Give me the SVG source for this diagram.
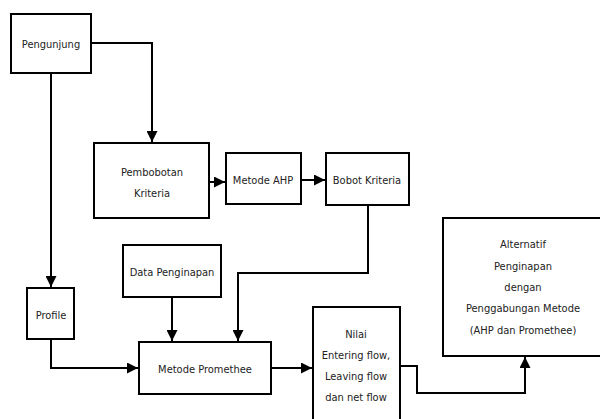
<svg xmlns="http://www.w3.org/2000/svg" width="600" height="419" viewBox="0 0 600 419">
<defs>
<marker id="arr" viewBox="0 0 10 10" refX="10" refY="5" markerWidth="5.5" markerHeight="5.5" orient="auto" markerUnits="strokeWidth">
<path d="M0,0 L10,5 L0,10 Z" fill="#000"/>
</marker>
<style>
.box{fill:#fff;stroke:#000;stroke-width:2}
.lbl{font-family:"DejaVu Sans Condensed","DejaVu Sans",sans-serif;font-size:11px;fill:#222;text-anchor:middle}
.edge{fill:none;stroke:#000;stroke-width:2}
</style>
</defs>
<rect width="600" height="419" fill="#fff"/>
<g id="connectors">
<path class="edge" d="M91,43 H152 V142" marker-end="url(#arr)"/>
<path class="edge" d="M51,73 V287" marker-end="url(#arr)"/>
<path class="edge" d="M209,182 H225" marker-end="url(#arr)"/>
<path class="edge" d="M301,180 H325" marker-end="url(#arr)"/>
<path class="edge" d="M368,205 V273 H238 V341" marker-end="url(#arr)"/>
<path class="edge" d="M172,297 V341" marker-end="url(#arr)"/>
<path class="edge" d="M51,339 V368 H138" marker-end="url(#arr)"/>
<path class="edge" d="M271,368 H312" marker-end="url(#arr)"/>
<path class="edge" d="M400,366 H417 V393 H525 V357" marker-end="url(#arr)"/>
</g>
<g id="pengunjung"><rect class="box" x="11" y="14" width="80" height="59"/><text class="lbl" x="51" y="48">Pengunjung</text></g>
<g id="pembobotan"><rect class="box" x="94" y="143" width="115" height="75"/><text class="lbl" x="152" y="176">Pembobotan</text><text class="lbl" x="152" y="197">Kriteria</text></g>
<g id="ahp"><rect class="box" x="226" y="153" width="75" height="51"/><text class="lbl" x="263" y="184">Metode AHP</text></g>
<g id="bobot"><rect class="box" x="326" y="153" width="83" height="52"/><text class="lbl" x="367" y="184">Bobot Kriteria</text></g>
<g id="data"><rect class="box" x="123" y="245" width="98" height="52"/><text class="lbl" x="172" y="276">Data Penginapan</text></g>
<g id="profile"><rect class="box" x="27" y="288" width="47" height="51"/><text class="lbl" x="51" y="319">Profile</text></g>
<g id="promethee"><rect class="box" x="139" y="342" width="132" height="52"/><text class="lbl" x="205" y="373">Metode Promethee</text></g>
<g id="nilai"><rect class="box" x="313" y="307" width="87" height="120"/><text class="lbl" x="356" y="338">Nilai</text><text class="lbl" x="356" y="359">Entering flow,</text><text class="lbl" x="356" y="380">Leaving flow</text><text class="lbl" x="356" y="401">dan net flow</text></g>
<g id="alternatif"><rect class="box" x="443" y="218" width="170" height="138"/><text class="lbl" x="523" y="248">Alternatif</text><text class="lbl" x="523" y="270">Penginapan</text><text class="lbl" x="523" y="291">dengan</text><text class="lbl" x="523" y="312">Penggabungan Metode</text><text class="lbl" x="523" y="334">(AHP dan Promethee)</text></g>
</svg>
